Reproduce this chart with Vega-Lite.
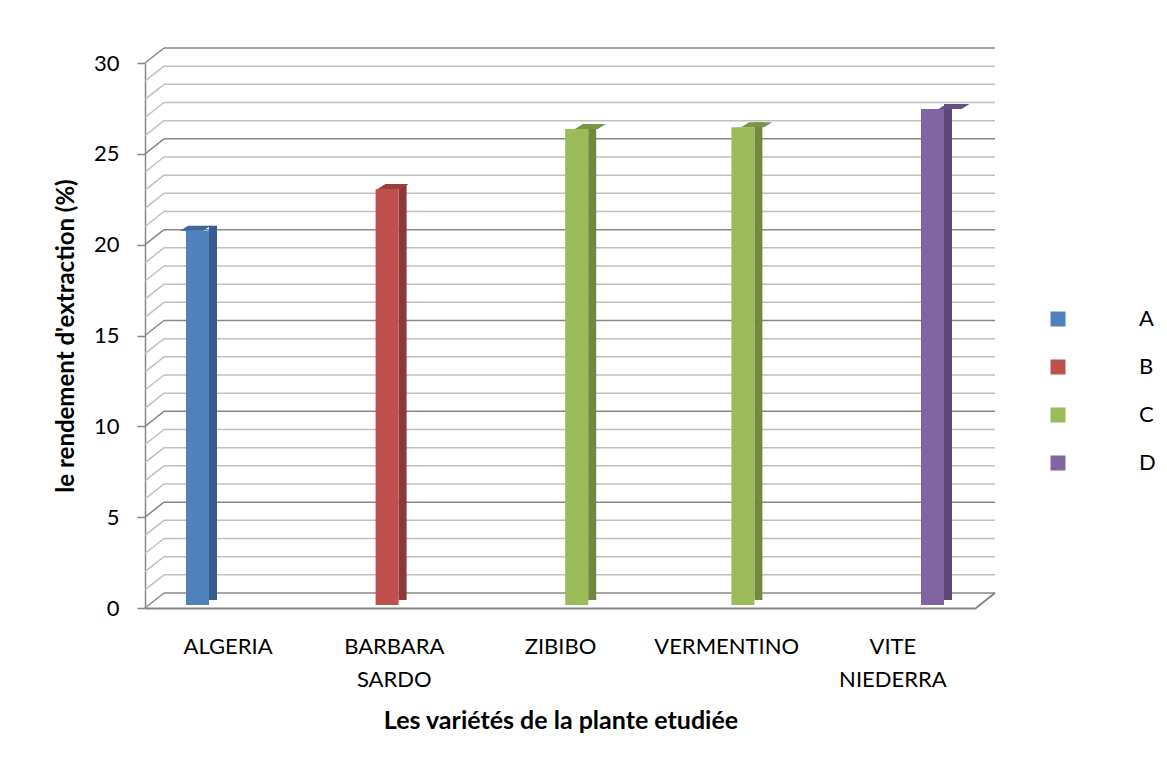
{
  "$schema": "https://vega.github.io/schema/vega-lite/v6.json",
  "width": 831,
  "height": 545,
  "autosize": {"type": "none"},
  "padding": {"left": 145, "top": 63, "right": 191, "bottom": 157},
  "background": "white",
  "config": {
    "view": {"stroke": null},
    "font": "Lato",
    "axisX": {
      "ticks": false, "labelAngle": 0, "grid": false,
      "labelLineHeight": 33, "labelFontSize": 22, "labelPadding": 28,
      "domainColor": "#868686", "domainWidth": 2,
      "titleFontSize": 25, "titleFontWeight": "bold", "titlePadding": 18,
      "labelFont": "Lato", "titleFont": "Lato", "labelColor": "black", "titleColor": "black"
    },
    "axisY": {
      "grid": false, "tickCount": 6,
      "domainColor": "#868686", "domainWidth": 1.5,
      "tickColor": "#868686", "tickSize": 8, "tickWidth": 1.5,
      "labelFontSize": 22, "labelPadding": 18,
      "titleFontSize": 24, "titleFontWeight": "bold", "titlePadding": 15,
      "labelFont": "Lato", "titleFont": "Lato", "labelColor": "black", "titleColor": "black"
    },
    "legend": {"labelFont": "Lato", "labelColor": "black"}
  },
  "datasets": {
    "rendements": [
      {"variete": "ALGERIA", "rendement": 20.6, "groupe": "A"},
      {"variete": "BARBARA SARDO", "rendement": 22.9, "groupe": "B"},
      {"variete": "ZIBIBO", "rendement": 26.2, "groupe": "C"},
      {"variete": "VERMENTINO", "rendement": 26.3, "groupe": "C"},
      {"variete": "VITE NIEDERRA", "rendement": 27.3, "groupe": "D"}
    ],
    "graduations": [
      {"v": 0}, {"v": 1}, {"v": 2}, {"v": 3}, {"v": 4}, {"v": 5}, {"v": 6}, {"v": 7},
      {"v": 8}, {"v": 9}, {"v": 10}, {"v": 11}, {"v": 12}, {"v": 13}, {"v": 14}, {"v": 15},
      {"v": 16}, {"v": 17}, {"v": 18}, {"v": 19}, {"v": 20}, {"v": 21}, {"v": 22}, {"v": 23},
      {"v": 24}, {"v": 25}, {"v": 26}, {"v": 27}, {"v": 28}, {"v": 29}, {"v": 30}
    ]
  },
  "layer": [
    {
      "data": {"name": "graduations"},
      "mark": {"type": "rule", "xOffset": 19, "x2Offset": 19, "yOffset": -15, "strokeWidth": 1.5},
      "encoding": {
        "x": {"value": 0},
        "x2": {"value": "width"},
        "y": {"field": "v", "type": "quantitative", "scale": {"domain": [0, 30], "nice": false}, "title": "le rendement d'extraction (%)"},
        "stroke": {"condition": {"test": "datum.v % 5 === 0", "value": "#878787"}, "value": "#c0c0c0"}
      }
    },
    {
      "data": {"name": "graduations"},
      "mark": {"type": "rule", "x2Offset": 19, "y2Offset": -15, "strokeWidth": 1.5},
      "encoding": {
        "x": {"value": 0},
        "x2": {"value": 0},
        "y": {"field": "v", "type": "quantitative", "title": "le rendement d'extraction (%)"},
        "y2": {"field": "v"},
        "stroke": {"condition": {"test": "datum.v % 5 === 0", "value": "#878787"}, "value": "#c0c0c0"}
      }
    },
    {
      "data": {"name": "graduations"},
      "transform": [{"filter": "datum.v === 0"}],
      "mark": {"type": "rule", "x2Offset": 19, "y2Offset": -15, "strokeWidth": 2, "stroke": "#878787"},
      "encoding": {
        "x": {"value": "width"},
        "x2": {"value": "width"},
        "y": {"field": "v", "type": "quantitative", "title": "le rendement d'extraction (%)"},
        "y2": {"field": "v"}
      }
    },
    {
      "data": {"name": "rendements"},
      "mark": {"type": "bar", "size": 8, "yOffset": -8, "y2Offset": -5.5},
      "encoding": {
        "x": {"field": "variete", "type": "nominal", "title": "Les variétés de la plante etudiée", "axis": {"labelExpr": "split(datum.label, ' ')"}},
        "xOffset": {
          "field": "groupe", "type": "nominal",
          "scale": {"domain": ["A", "B", "C", "D"], "paddingInner": 0, "paddingOuter": 0, "range": [56.3, 149.9]}
        },
        "y": {"field": "rendement", "type": "quantitative", "title": "le rendement d'extraction (%)"},
        "color": {
          "field": "groupe", "type": "nominal", "legend": null,
          "scale": {"domain": ["A", "B", "C", "D"], "range": ["#385d8a", "#8c3836", "#71893f", "#5c4776"]}
        }
      }
    },
    {
      "data": {"name": "rendements"},
      "mark": {"type": "bar", "size": 23, "yOffset": -3, "y2Offset": -3},
      "encoding": {
        "x": {
          "field": "variete", "type": "nominal", "title": "Les variétés de la plante etudiée",
          "sort": ["ALGERIA", "BARBARA SARDO", "ZIBIBO", "VERMENTINO", "VITE NIEDERRA"],
          "scale": {"domain": ["ALGERIA", "BARBARA SARDO", "ZIBIBO", "VERMENTINO", "VITE NIEDERRA"], "paddingInner": 0, "paddingOuter": 0},
          "axis": {"labelExpr": "split(datum.label, ' ')"}
        },
        "xOffset": {
          "field": "groupe", "type": "nominal",
          "scale": {"domain": ["A", "B", "C", "D"], "paddingInner": 0, "paddingOuter": 0, "range": [40.8, 134.4]}
        },
        "y": {"field": "rendement", "type": "quantitative", "title": "le rendement d'extraction (%)"},
        "color": {
          "field": "groupe", "type": "nominal",
          "scale": {"domain": ["A", "B", "C", "D"], "range": ["#4f81bd", "#c0504d", "#9bbb59", "#8064a2"]},
          "legend": {
            "title": null, "orient": "none", "legendX": 902, "legendY": 245,
            "symbolType": "square", "symbolSize": 225, "symbolStrokeWidth": 0,
            "labelFontSize": 22, "labelOffset": 70, "rowPadding": 26
          }
        }
      }
    },
    {
      "data": {"name": "rendements"},
      "mark": {
        "type": "point", "shape": "M -1 0.161 L 0.484 0.161 L 1 -0.161 L -0.484 -0.161 Z",
        "size": 961, "filled": true, "opacity": 1, "strokeWidth": 0, "yOffset": -5.5
      },
      "encoding": {
        "x": {"field": "variete", "type": "nominal", "title": "Les variétés de la plante etudiée", "axis": {"labelExpr": "split(datum.label, ' ')"}},
        "xOffset": {
          "field": "groupe", "type": "nominal",
          "scale": {"domain": ["A", "B", "C", "D"], "paddingInner": 0, "paddingOuter": 0, "range": [50.6, 144.2]}
        },
        "y": {"field": "rendement", "type": "quantitative", "title": "le rendement d'extraction (%)"},
        "color": {
          "field": "groupe", "type": "nominal", "legend": null,
          "scale": {"domain": ["A", "B", "C", "D"], "range": ["#3d679b", "#9a3f3c", "#7a9544", "#654f82"]}
        }
      }
    }
  ],
  "resolve": {"scale": {"color": "independent", "xOffset": "independent"}}
}
